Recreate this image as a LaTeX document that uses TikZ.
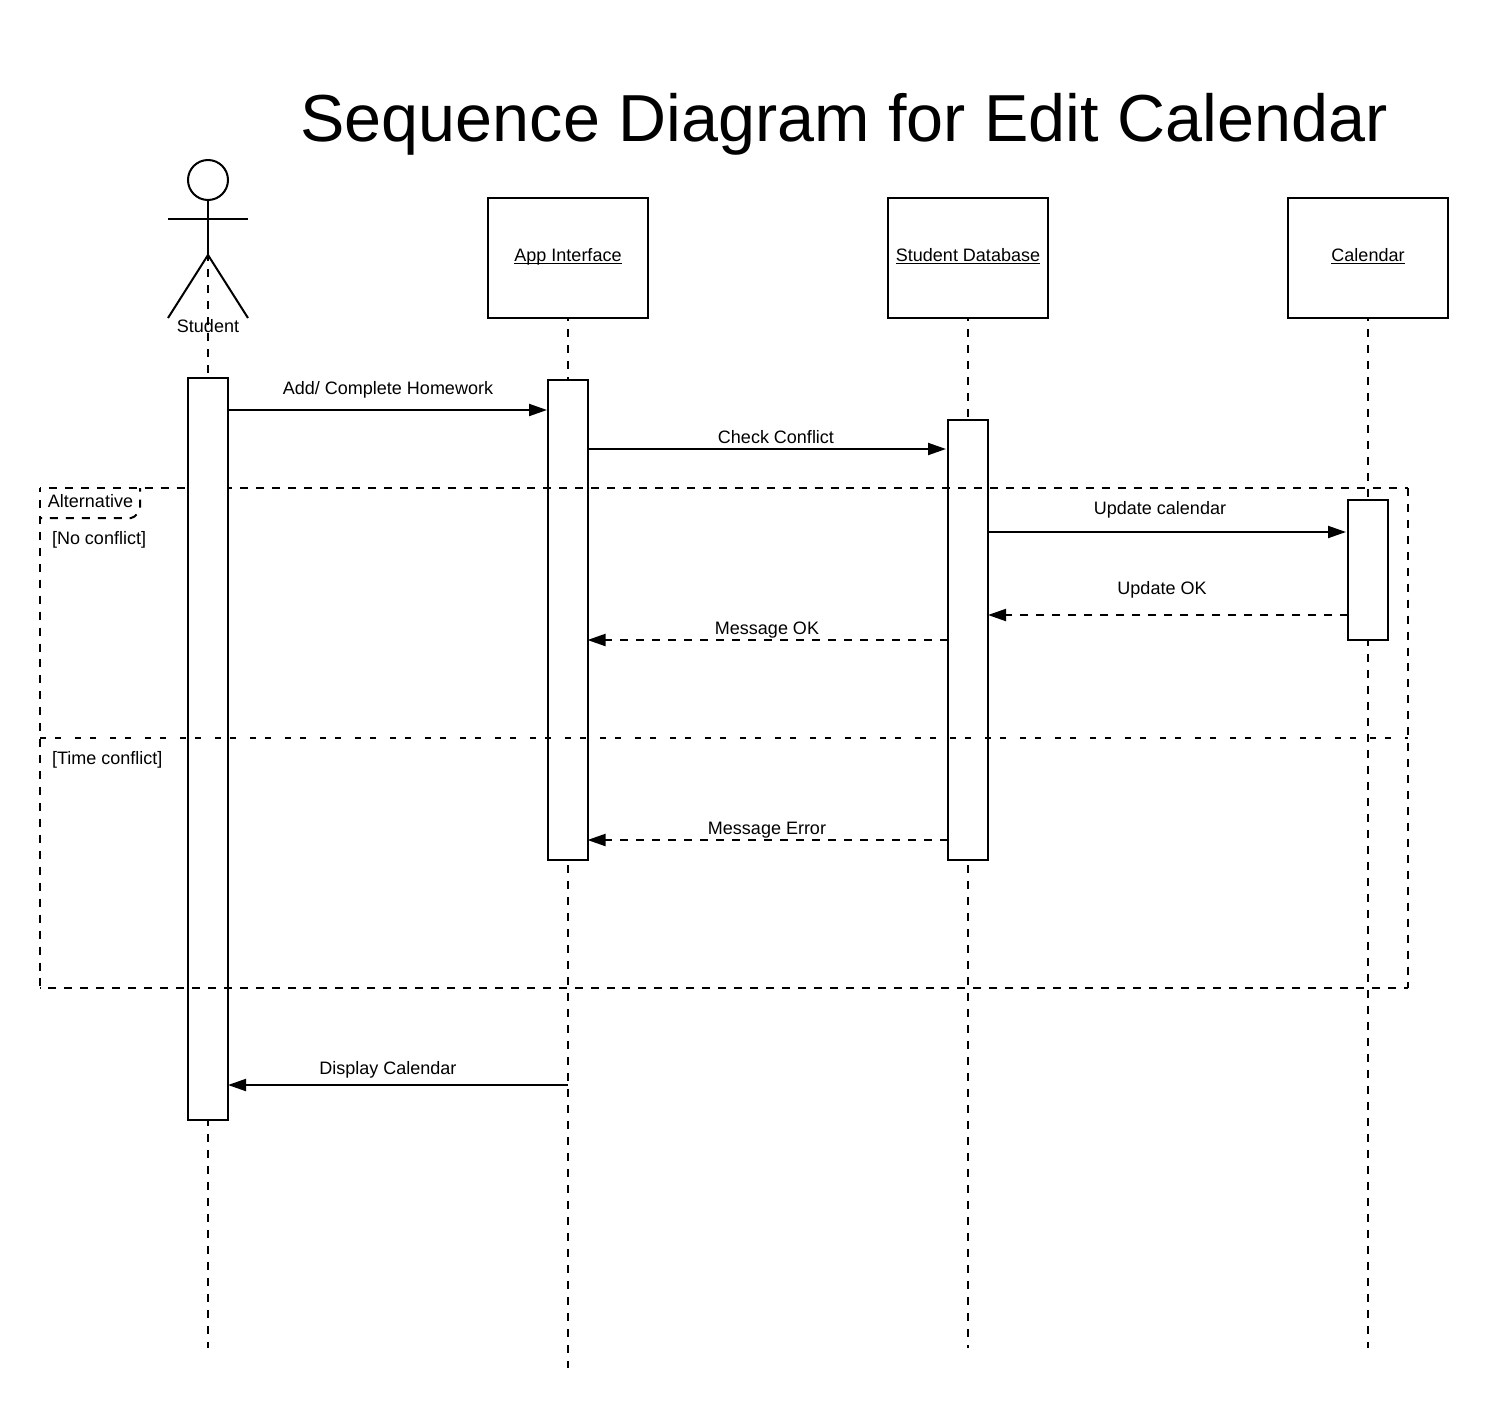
\documentclass[tikz,border=0pt]{standalone}
\usepackage{fontspec}
\setmainfont{Liberation Sans}
\usetikzlibrary{arrows.meta}
\newcommand{\ulx}[1]{\sbox0{#1}\usebox0\hspace{-\wd0}\rule[-3.3pt]{\wd0}{1.7pt}}
\tikzset{
  x=1pt,y=-1pt,
  every path/.style={line width=2pt},
  lbl/.style={font=\fontsize{18}{20}\selectfont,inner sep=0pt,anchor=base},
  lbll/.style={lbl,anchor=base west},
  objbox/.style={draw,fill=white,minimum width=160pt,minimum height=120pt,inner sep=0pt,font=\fontsize{18}{20}\selectfont,text height=10pt,text depth=4pt},
  actbox/.style={draw,fill=white,minimum width=40pt,inner sep=0pt},
  life/.style={dash pattern=on 8pt off 8pt},
  frameline/.style={dash pattern=on 8pt off 7.95pt},
  sepline/.style={dash pattern=on 6pt off 9pt on 6pt off 14pt},
  msg/.style={-{Triangle[length=18pt,width=12pt]}},
  ret/.style={life,-{Triangle[length=18pt,width=12pt]}}
}
\begin{document}
\begin{tikzpicture}
\useasboundingbox (0,0) rectangle (1488,1408);
% title
\node[inner sep=0pt,anchor=base,font=\fontsize{66.5}{72}\selectfont] (title) at (844,141) {Sequence Diagram for Edit Calendar};
% object boxes
\node[objbox] (app) at (568,258) {\ulx{App Interface}};
\node[objbox] (db) at (968,258) {\ulx{Student Database}};
\node[objbox] (cal) at (1368,258) {\ulx{Calendar}};
% actor
\node[draw,circle,minimum size=40pt,inner sep=0pt] (head) at (208,180) {};
\coordinate (hip) at (208,255);
\coordinate (armL) at (168,219);
\coordinate (armR) at (248,219);
\coordinate (legL) at (168,318);
\coordinate (legR) at (248,318);
\draw (head.south) -- (hip);
\draw (armL) -- (armR);
\draw (legL) -- (hip) -- (legR);
\node[lbl] (student) at (208,332.5) {Student};
% frame corners
\coordinate (fTL) at (40,488);
\coordinate (fTR) at (1408,488);
\coordinate (fBR) at (1408,988);
\coordinate (fBL) at (40,988);
\coordinate (sepL) at (40,738);
\coordinate (sepR) at (1408,738);
\coordinate (tabA) at (40,518);
\coordinate (tabB) at (133,518);
\coordinate (tabC) at (140,511);
\coordinate (tabD) at (140,488);
% activation boxes
\node[actbox,minimum height=480pt] (actA) at (568,620) {};
\node[actbox,minimum height=440pt] (actD) at (968,640) {};
\node[actbox,minimum height=140pt] (actC) at (1368,570) {};
% top edge lies over these boxes but under the student activation box
\draw[frameline,dash phase=7pt] (fTL) -- (fTR);
\node[actbox,minimum height=742pt] (actS) at (208,749) {};
% lifelines
\coordinate (endS) at (208,1348);
\coordinate (endA) at (568,1368);
\coordinate (endD) at (968,1348);
\coordinate (endC) at (1368,1348);
\draw[life,dash phase=2pt] (hip) -- (actS.north);
\draw[life,dash phase=3pt] (actS.south) -- (endS);
\draw[life,dash phase=6pt] (app.south) -- (actA.north);
\draw[life,dash phase=12pt] (actA.south) -- (endA);
\draw[life,dash phase=6pt] (db.south) -- (actD.north);
\draw[life,dash phase=12pt] (actD.south) -- (endD);
\draw[life,dash phase=6pt] (cal.south) -- (actC.north);
\draw[life,dash phase=3pt] (actC.south) -- (endC);
% rest of frame
\draw[frameline] (fTR) -- (fBR);
\draw[frameline,dash phase=4pt] (fBR) -- (fBL);
\draw[frameline,dash phase=4pt] (fTL) -- (fBL);
\draw[sepline] (sepL) -- (sepR);
\draw[frameline,dash phase=6pt,rounded corners=2pt] (tabA) -- (tabB) -- (tabC) -- (tabD);
\node[lbl] (alt) at (90.5,507) {Alternative};
\node[lbll] (noc) at (51,544.5) {[No conflict]};
\node[lbll] (tc) at (51,764.5) {[Time conflict]};
% messages
\coordinate (m1a) at (228,410); \coordinate (m1b) at (547,410);
\coordinate (m2a) at (588,449); \coordinate (m2b) at (946,449);
\coordinate (m3a) at (988,532); \coordinate (m3b) at (1346,532);
\coordinate (m4a) at (1348,615); \coordinate (m4b) at (988,615);
\coordinate (m5a) at (948,640); \coordinate (m5b) at (587.5,640);
\coordinate (m6a) at (948,840); \coordinate (m6b) at (587.5,840);
\coordinate (m7a) at (568,1085); \coordinate (m7b) at (228,1085);
\draw[msg] (m1a) -- (m1b);
\draw[msg] (m2a) -- (m2b);
\draw[msg] (m3a) -- (m3b);
\draw[ret] (m4a) -- (m4b);
\draw[ret] (m5a) -- (m5b);
\draw[ret] (m6a) -- (m6b);
\draw[msg] (m7a) -- (m7b);
\node[lbl] (t1) at (388,394) {Add/ Complete Homework};
\node[lbl] (t2) at (776,443) {Check Conflict};
\node[lbl] (t3) at (1160,514) {Update calendar};
\node[lbl] (t4) at (1162,594) {Update OK};
\node[lbl] (t5) at (767,634) {Message OK};
\node[lbl] (t6) at (767,834) {Message Error};
\node[lbl] (t7) at (388,1074) {Display Calendar};
\end{tikzpicture}
\end{document}
